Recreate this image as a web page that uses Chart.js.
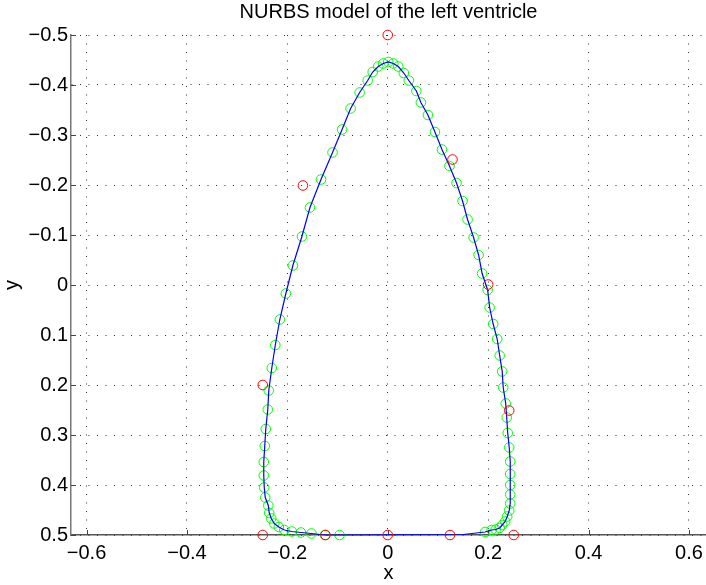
<!DOCTYPE html>
<html lang="en">
<head>
<meta charset="UTF-8">
<title>NURBS model of the left ventricle</title>
<script src="https://cdn.jsdelivr.net/npm/chart.js"></script>
<style>
  html, body { margin: 0; padding: 0; background: #fff; overflow: hidden; }
  .chart-box { width: 706px; height: 585px; }
</style>
</head>
<body>
<div class="chart-box"><canvas id="nurbsChart"></canvas></div>
<script>
// control polygon of the NURBS curve
const ctrlX = [0, 0.129, 0.2, 0.242, 0.251, 0.124, 0, -0.124, -0.249, -0.249, -0.169];
const ctrlY = [-0.5, -0.251, -0.001, 0.251, 0.5, 0.5, 0.5, 0.5, 0.5, 0.2, -0.199];

// points evaluated on the curve: base left -> up the left wall -> apex -> down the right wall
const sampleX = [-0.096, -0.125, -0.152, -0.173, -0.191, -0.206, -0.217, -0.226, -0.232, -0.236,
                 -0.238, -0.244, -0.246, -0.247, -0.247, -0.245, -0.243, -0.239, -0.237, -0.231,
                 -0.224, -0.215, -0.203, -0.189, -0.171, -0.155, -0.133, -0.110, -0.091, -0.074,
                 -0.056, -0.040, -0.030, -0.019, -0.009, 0.001, 0.011, 0.021, 0.032, 0.042,
                 0.057, 0.066, 0.080, 0.094, 0.108, 0.123, 0.137, 0.149, 0.159, 0.171,
                 0.181, 0.188, 0.199, 0.203, 0.210, 0.218, 0.223, 0.228, 0.230, 0.235,
                 0.237, 0.239, 0.242, 0.244, 0.244, 0.244, 0.244, 0.244, 0.242, 0.238,
                 0.234, 0.228, 0.223, 0.215, 0.207, 0.194];
const sampleY = [0.5, 0.5, 0.497, 0.495, 0.493, 0.49, 0.484, 0.477, 0.467, 0.456,
                 0.441, 0.425, 0.405, 0.381, 0.354, 0.322, 0.288, 0.249, 0.211, 0.166,
                 0.12, 0.069, 0.017, -0.039, -0.097, -0.155, -0.211, -0.265, -0.311, -0.353,
                 -0.385, -0.409, -0.426, -0.437, -0.443, -0.446, -0.443, -0.437, -0.424, -0.409,
                 -0.388, -0.365, -0.34, -0.306, -0.271, -0.238, -0.204, -0.168, -0.131, -0.095,
                 -0.06, -0.023, 0.01, 0.045, 0.078, 0.108, 0.141, 0.173, 0.205, 0.237,
                 0.265, 0.296, 0.325, 0.353, 0.378, 0.4, 0.419, 0.437, 0.451, 0.463,
                 0.473, 0.48, 0.486, 0.489, 0.49, 0.494];

// the curve closes along the base
const baseX = [0.15, -0.096];
const baseY = [0.499, 0.5];

const xTicks = [-0.6, -0.4, -0.2, 0, 0.2, 0.4, 0.6];
const yTicks = [-0.5, -0.4, -0.3, -0.2, -0.1, 0, 0.1, 0.2, 0.3, 0.4, 0.5];

function pts(xs, ys) { return xs.map((x, i) => ({ x: x, y: ys[i] })); }

function fmt(v) {
    if (Math.abs(v) < 1e-9) return '0';
    return (v < 0 ? '\u2212' : '') + Math.abs(v).toFixed(1);
}

const font = { family: '"Liberation Sans", Arial, sans-serif', size: 20 };

// matlab style ticks pointing into the axes
const innerTicks = {
    id: 'innerTicks',
    beforeDatasetsDraw(chart) {
        const { ctx, chartArea, scales } = chart;
        ctx.save();
        ctx.strokeStyle = '#444';
        ctx.lineWidth = 1;
        ctx.beginPath();
        xTicks.forEach(v => {
            const px = Math.round(scales.x.getPixelForValue(v)) + 0.5;
            ctx.moveTo(px, chartArea.bottom);
            ctx.lineTo(px, chartArea.bottom - 5);
        });
        yTicks.forEach(v => {
            const py = Math.round(scales.y.getPixelForValue(v)) + 0.5;
            ctx.moveTo(chartArea.left, py);
            ctx.lineTo(chartArea.left + 5, py);
        });
        ctx.stroke();
        ctx.restore();
    }
};

const gridOpts = { color: '#333', lineWidth: 1, drawTicks: false };

new Chart(document.getElementById('nurbsChart'), {
    type: 'scatter',
    data: {
        datasets: [{
            label: 'control points',
            data: pts(ctrlX, ctrlY),
            showLine: false,
            pointRadius: 4.8,
            pointHoverRadius: 4.8,
            borderColor: '#ff0000',
            backgroundColor: 'rgba(0,0,0,0)',
            borderWidth: 1,
            clip: false
        }, {
            label: 'curve',
            data: pts(sampleX.concat(baseX), sampleY.concat(baseY)),
            showLine: true,
            pointRadius: 0,
            borderColor: '#0000ff',
            borderWidth: 1.2,
            tension: 0,
            clip: false
        }, {
            label: 'curve points',
            data: pts(sampleX, sampleY),
            showLine: false,
            pointRadius: 4.8,
            pointHoverRadius: 4.8,
            borderColor: '#00ff00',
            backgroundColor: 'rgba(0,0,0,0)',
            borderWidth: 1,
            clip: false
        }]
    },
    options: {
        responsive: true,
        maintainAspectRatio: false,
        animation: false,
        devicePixelRatio: 1,
        layout: { padding: 0, autoPadding: false },
        plugins: {
            legend: { display: false },
            tooltip: { enabled: false },
            title: {
                display: true,
                text: 'NURBS model of the left ventricle',
                color: '#000',
                fullSize: false,
                font: { family: font.family, size: 20, weight: 'normal' },
                padding: { top: 0, bottom: 11 }
            }
        },
        scales: {
            x: {
                type: 'linear',
                min: -0.631,
                max: 0.634,
                afterBuildTicks: s => { s.ticks = xTicks.map(v => ({ value: v })); },
                afterFit: s => { s.height = 50; s.paddingLeft = 0; s.paddingRight = 0; },
                grid: gridOpts,
                border: { display: true, color: '#555', width: 1.5, dash: [1, 7.5] },
                ticks: { callback: fmt, color: '#000', font: font, padding: 6, maxRotation: 0, autoSkip: false },
                title: { display: true, text: 'x', color: '#000', font: font, padding: 0 }
            },
            y: {
                type: 'linear',
                reverse: true,
                min: -0.5,
                max: 0.5,
                afterBuildTicks: s => { s.ticks = yTicks.map(v => ({ value: v })); },
                afterFit: s => { s.width = 71; s.paddingTop = 0; s.paddingBottom = 0; },
                grid: gridOpts,
                border: { display: true, color: '#777', width: 1.5, dash: [1, 7.5] },
                ticks: { callback: fmt, color: '#000', font: font, padding: 3, autoSkip: false },
                title: { display: true, text: 'y', color: '#000', font: font, padding: 0 }
            }
        }
    },
    plugins: [innerTicks]
});
</script>
</body>
</html>
